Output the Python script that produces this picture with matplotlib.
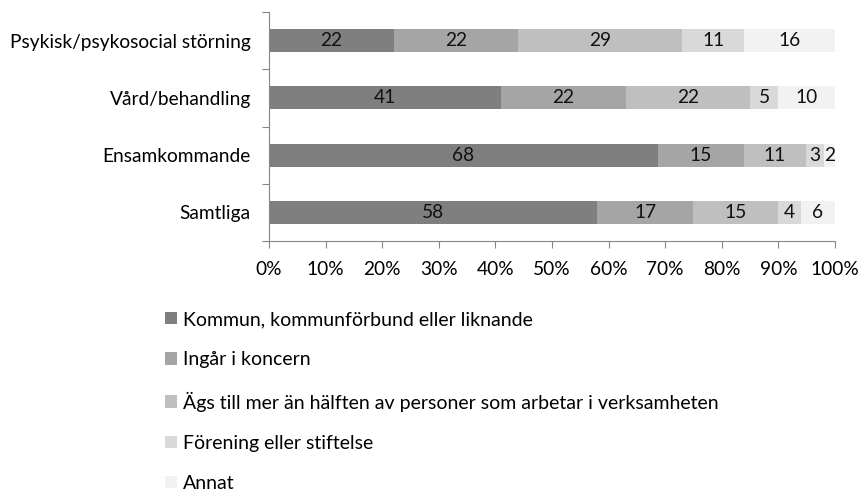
import matplotlib.pyplot as plt
import numpy as np
from matplotlib.patches import Patch

plt.rcParams['font.family'] = ['Lato', 'DejaVu Sans']

categories = ['Psykisk/psykosocial störning', 'Vård/behandling', 'Ensamkommande', 'Samtliga']
series_names = ['Kommun, kommunförbund eller liknande',
                'Ingår i koncern',
                'Ägs till mer än hälften av personer som arbetar i verksamheten',
                'Förening eller stiftelse',
                'Annat']
kommun = [22, 41, 68, 58]
koncern = [22, 22, 15, 17]
personal = [29, 22, 11, 15]
forening = [11, 5, 3, 4]
annat = [16, 10, 2, 6]
colors = ['#7f7f7f', '#a5a5a5', '#bfbfbf', '#d9d9d9', '#f2f2f2']

data = np.array([kommun, koncern, personal, forening, annat], dtype=float)
shares = data / data.sum(axis=0)  # 100 % stacked

fig = plt.figure(figsize=(8.61, 4.94), dpi=100)
ax = fig.add_axes([0.3124, 0.512, 0.6574, 0.4636])

y = np.arange(len(categories))[::-1]
left = np.zeros(len(categories))
for vals, raw, col in zip(shares, data, colors):
    ax.barh(y, vals, left=left, height=0.4, color=col, edgecolor='none')
    for yi, l, v, r in zip(y, left, vals, raw):
        ax.text(l + v / 2, yi, f'{int(r)}', ha='center', va='center', fontsize=13.8, color='#111111')
    left += vals

ax.set_xlim(0, 1)
ax.set_ylim(-0.5, len(categories) - 0.5)
ax.set_xticks(np.linspace(0, 1, 11))
ax.set_xticklabels([f'{p}%' for p in range(0, 101, 10)], fontsize=13.8)
ax.set_yticks(y)
ax.set_yticklabels(categories, fontsize=13.8)
ax.set_yticks(np.arange(-0.5, len(categories)), minor=True)
ax.tick_params(axis='y', which='major', length=0, pad=13)
ax.tick_params(axis='y', which='minor', length=5, color='#868686', width=0.8)
ax.tick_params(axis='x', length=5, color='#868686', width=0.8, pad=9)
for s in ['top', 'right']:
    ax.spines[s].set_visible(False)
for s in ['left', 'bottom']:
    ax.spines[s].set_color('#868686')
    ax.spines[s].set_linewidth(0.8)

handles = [Patch(facecolor=c, edgecolor='none') for c in colors]
fig.legend(handles, series_names, loc='upper left', bbox_to_anchor=(0.183, 0.386),
           frameon=False, fontsize=14, handlelength=0.6, handleheight=0.6,
           handletextpad=0.3, labelspacing=1.19, borderaxespad=0)

fig.savefig('out.png', dpi=100)
